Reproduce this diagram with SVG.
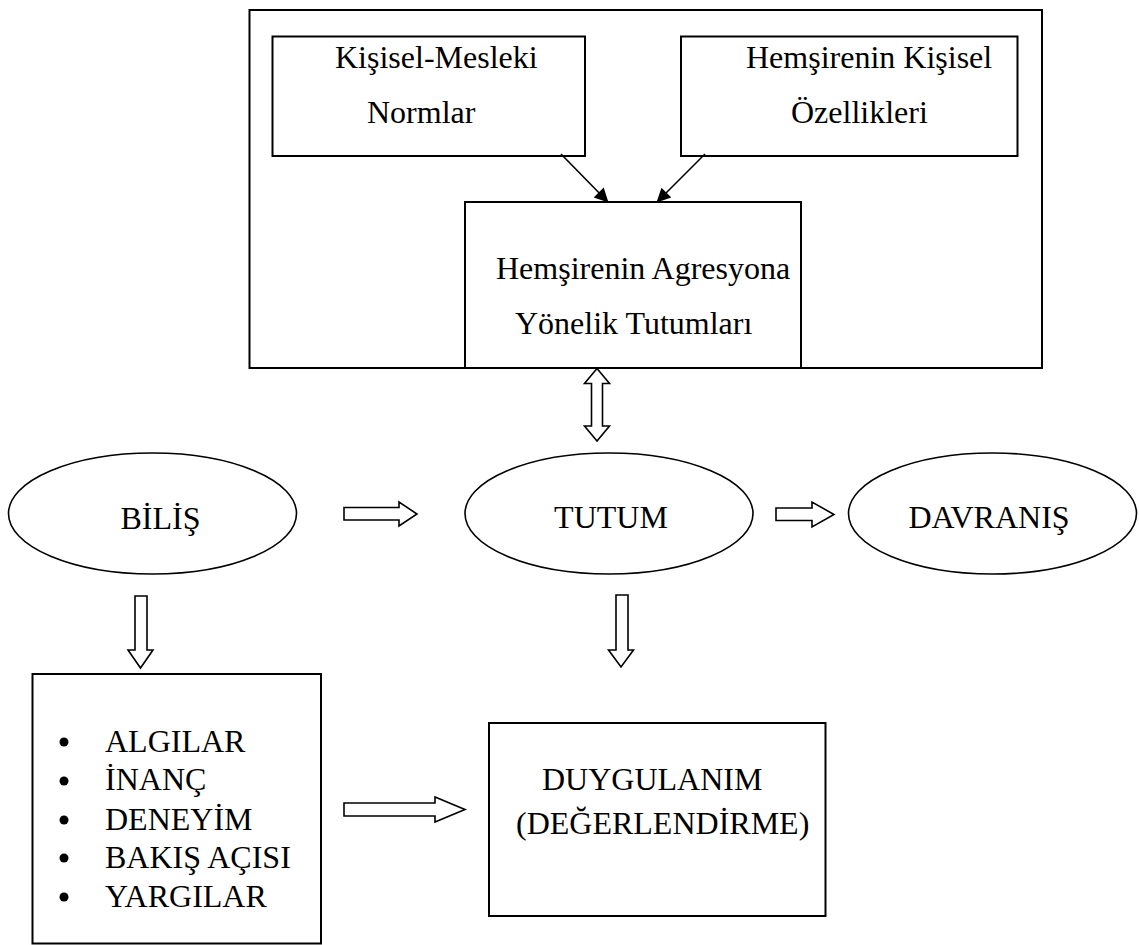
<svg xmlns="http://www.w3.org/2000/svg" width="1139" height="945" viewBox="0 0 1139 945">
<style>
.box{fill:none;stroke:#000;stroke-width:2}
.ell{fill:#fff;stroke:#000;stroke-width:1.6}
.blk{fill:#fff;stroke:#000;stroke-width:1.6;stroke-linejoin:miter}
.ln{fill:none;stroke:#000;stroke-width:1.6}
text{font-family:"Liberation Serif","Times New Roman",serif;font-size:32px;fill:#000}
.c{text-anchor:middle}
</style>
<defs>
<marker id="ah" viewBox="0 0 10 10" refX="10" refY="5" markerWidth="6" markerHeight="6" markerUnits="userSpaceOnUse" orient="auto">
<path d="M0,0 L10,5 L0,10 z" fill="#000"/>
</marker>
<marker id="ah2" viewBox="0 0 10 10" refX="9.5" refY="5" markerWidth="16" markerHeight="14" orient="auto" markerUnits="userSpaceOnUse">
<path d="M0,0 L10,5 L0,10 z" fill="#000"/>
</marker>
</defs>
<rect x="249.5" y="10" width="792.5" height="358" class="box"/>
<g id="n-kisisel-mesleki">
<rect x="272.5" y="36.5" width="312.5" height="119.5" class="box"/>
<text x="335" y="68">Kişisel-Mesleki</text>
<text x="367" y="123">Normlar</text>
</g>
<g id="n-hemsire-ozellikleri">
<rect x="681" y="36.5" width="336.5" height="119.5" class="box"/>
<text x="746" y="68">Hemşirenin Kişisel</text>
<text x="791" y="123">Özellikleri</text>
</g>
<g id="n-tutumlari">
<rect x="465" y="202" width="336" height="166" class="box"/>
<text x="496" y="279">Hemşirenin Agresyona</text>
<text x="515" y="334">Yönelik Tutumları</text>
</g>
<g id="n-bilis">
<ellipse cx="152.5" cy="513.5" rx="144" ry="60.5" class="ell"/>
<text x="160.5" y="529" class="c">BİLİŞ</text>
</g>
<g id="n-tutum">
<ellipse cx="609" cy="513.5" rx="144" ry="60.5" class="ell"/>
<text x="611" y="528" class="c">TUTUM</text>
</g>
<g id="n-davranis">
<ellipse cx="992.5" cy="513.5" rx="144" ry="60.5" class="ell"/>
<text x="989" y="528" class="c">DAVRANIŞ</text>
</g>
<g id="n-list">
<rect x="32.5" y="674" width="288.5" height="269.5" class="box"/>
<circle cx="64" cy="742" r="4.5"/>
<text x="105" y="752">ALGILAR</text>
<circle cx="64" cy="781" r="4.5"/>
<text x="105" y="790">İNANÇ</text>
<circle cx="64" cy="820" r="4.5"/>
<text x="105" y="830">DENEYİM</text>
<circle cx="64" cy="858" r="4.5"/>
<text x="105" y="868">BAKIŞ AÇISI</text>
<circle cx="64" cy="897" r="4.5"/>
<text x="105" y="907">YARGILAR</text>
</g>
<g id="n-duygulanim">
<rect x="489" y="723" width="336.5" height="193" class="box"/>
<text x="542" y="790">DUYGULANIM</text>
<text x="516" y="834">(DEĞERLENDİRME)</text>
</g>
<g id="connectors">
<line x1="561" y1="154" x2="608" y2="202" class="ln" marker-end="url(#ah2)"/>
<line x1="705" y1="154" x2="657" y2="202" class="ln" marker-end="url(#ah2)"/>
<polygon class="blk" points="597,368.5 609.5,383.5 602.5,383.5 602.5,426 609.5,426 597,441 584.5,426 591.5,426 591.5,383.5 584.5,383.5"/>
<polygon class="blk" points="344,507.5 399,507.5 399,502 417,514 399,526 399,520 344,520"/>
<polygon class="blk" points="776,508 812,508 812,502 834,514.5 812,527 812,520.5 776,520.5"/>
<polygon class="blk" points="135,596 147,596 147,650 153,650 140.5,668 128,650 135,650"/>
<polygon class="blk" points="616,595 628,595 628,650 633.5,650 621,667 608.5,650 616,650"/>
<polygon class="blk" points="344,803 435,803 435,797 465,809.5 435,822 435,816 344,816"/>
</g>
</svg>
